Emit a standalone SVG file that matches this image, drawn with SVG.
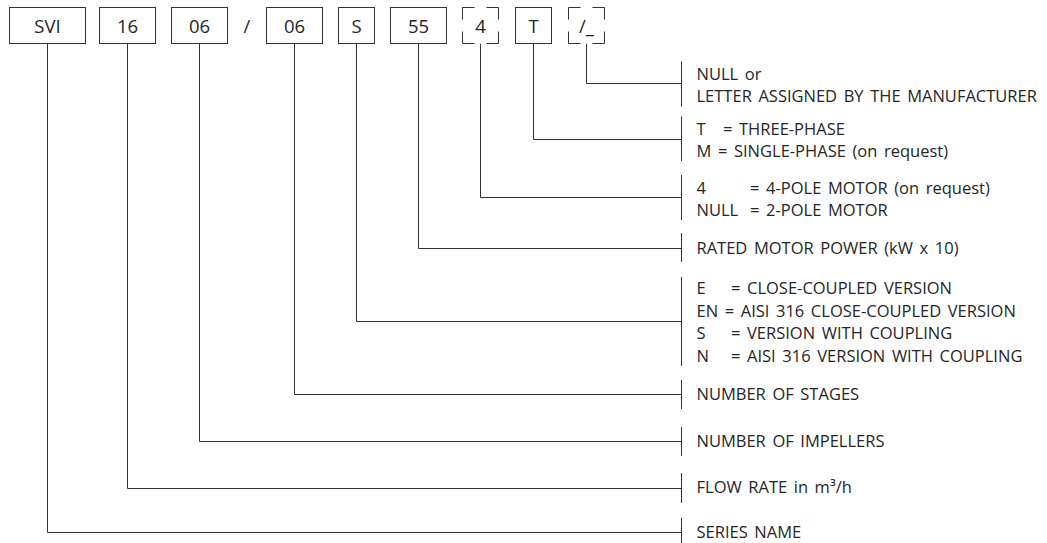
<svg xmlns="http://www.w3.org/2000/svg" width="1047" height="543" viewBox="0 0 1047 543">
<style>
.box{fill:#fff;stroke:#333;stroke-width:1}
.dash{fill:#fff;stroke:#333;stroke-width:1;stroke-dasharray:24 12;stroke-dashoffset:12}
.code{font-family:"Open Sans","Noto Sans",sans-serif;font-size:18.5px;fill:#262626;text-anchor:middle}
.lbl{font-family:"Open Sans","Noto Sans",sans-serif;font-size:16.5px;fill:#262626;word-spacing:2.3px}
.ln{fill:none;stroke:#333;stroke-width:1}
</style>
<rect width="1047" height="543" fill="#fff"/>
<g id="connectors" class="ln">
<path d="M47.5 43.5V532.5H681.5"/>
<path d="M127.5 43.5V488.5H681.5"/>
<path d="M199.5 43.5V441.5H681.5"/>
<path d="M294.5 43.5V394.5H681.5"/>
<path d="M356.5 43.5V321.5H681.5"/>
<path d="M418.5 43.5V248.5H681.5"/>
<path d="M480.5 43.5V197.5H681.5"/>
<path d="M533.5 43.5V139.5H681.5"/>
<path d="M586.5 43.5V83.5H681.5"/>
<path d="M681.5 61.5V106.5M681.5 116.5V161M681.5 175V220M681.5 233V262M681.5 277V366M681.5 380V409M681.5 427V456M681.5 473V503M681.5 518V543"/>
</g>
<g id="n-svi"><rect class="box" x="9.5" y="7.5" width="76" height="36"/><text class="code" x="47.5" y="32.5">SVI</text></g>
<g id="n-16"><rect class="box" x="99.5" y="7.5" width="56" height="36"/><text class="code" x="127.5" y="32.5">16</text></g>
<g id="n-06a"><rect class="box" x="171.5" y="7.5" width="56" height="36"/><text class="code" x="199.5" y="32.5">06</text></g>
<g id="n-slash"><text class="code" x="247" y="32.5">/</text></g>
<g id="n-06b"><rect class="box" x="266.5" y="7.5" width="56" height="36"/><text class="code" x="294.5" y="32.5">06</text></g>
<g id="n-s"><rect class="box" x="338.5" y="7.5" width="36" height="36"/><text class="code" x="356.5" y="32.5">S</text></g>
<g id="n-55"><rect class="box" x="390.5" y="7.5" width="56" height="36"/><text class="code" x="418.5" y="32.5">55</text></g>
<g id="n-4"><rect class="dash" x="462.5" y="7.5" width="36" height="36"/><text class="code" x="480.5" y="32.5">4</text></g>
<g id="n-t"><rect class="box" x="515.5" y="7.5" width="36" height="36"/><text class="code" x="533.5" y="32.5">T</text></g>
<g id="n-letter"><rect class="dash" x="568.5" y="7.5" width="36" height="36"/><text class="code" x="586.5" y="32.5">/_</text></g>
<g id="l-letter" class="lbl"><text x="696.5" y="80">NULL or</text><text x="696.5" y="102">LETTER ASSIGNED BY THE MANUFACTURER</text></g>
<g id="l-phase" class="lbl"><text x="696.5" y="135">T</text><text x="723" y="135">= THREE-PHASE</text><text x="696.5" y="157">M = SINGLE-PHASE (on request)</text></g>
<g id="l-poles" class="lbl"><text x="696.5" y="194">4</text><text x="750" y="194">= 4-POLE MOTOR (on request)</text><text x="696.5" y="216">NULL</text><text x="750" y="216">= 2-POLE MOTOR</text></g>
<g id="l-power" class="lbl"><text x="696.5" y="254">RATED MOTOR POWER (kW x 10)</text></g>
<g id="l-version" class="lbl"><text x="696.5" y="294">E</text><text x="731" y="294">= CLOSE-COUPLED VERSION</text><text x="696.5" y="316.5">EN = AISI 316 CLOSE-COUPLED VERSION</text><text x="696.5" y="339">S</text><text x="731" y="339">= VERSION WITH COUPLING</text><text x="696.5" y="361.5">N</text><text x="731" y="361.5">= AISI 316 VERSION WITH COUPLING</text></g>
<g id="l-stages" class="lbl"><text x="696.5" y="400">NUMBER OF STAGES</text></g>
<g id="l-impellers" class="lbl"><text x="696.5" y="447">NUMBER OF IMPELLERS</text></g>
<g id="l-flow" class="lbl"><text x="696.5" y="493">FLOW RATE in m³/h</text></g>
<g id="l-series" class="lbl"><text x="696.5" y="538">SERIES NAME</text></g>
</svg>
